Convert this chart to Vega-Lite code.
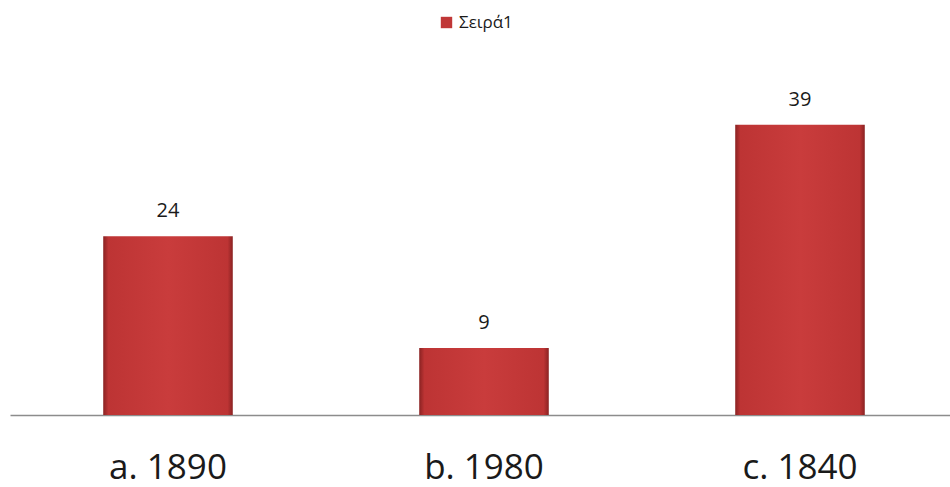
{
  "$schema": "https://vega.github.io/schema/vega-lite/v6.json",
  "autosize": "none",
  "width": 948,
  "height": 335,
  "padding": {"left": 10, "top": 80, "right": 0, "bottom": 72},
  "background": "white",
  "config": {"view": {"stroke": null}, "font": "Open Sans"},
  "data": {"values": [
    {"category": "a. 1890", "value": 24, "series": "Σειρά1"},
    {"category": "b. 1980", "value": 9, "series": "Σειρά1"},
    {"category": "c. 1840", "value": 39, "series": "Σειρά1"}
  ]},
  "encoding": {
    "x": {"field": "category", "type": "nominal", "sort": null,
      "scale": {"paddingInner": 0.59, "paddingOuter": 0.295},
      "axis": {"title": null, "ticks": false, "labelAngle": 0, "labelFontSize": 35, "labelColor": "#1a1a1a",
        "labelFont": "Open Sans", "labelBaseline": "alphabetic", "labelPadding": 63,
        "domainColor": "#8c8c8c", "domainWidth": 1.5}},
    "y": {"field": "value", "type": "quantitative", "scale": {"domain": [0, 45], "nice": false},
      "axis": null}
  },
  "layer": [
    {
      "mark": {"type": "bar", "opacity": 0},
      "encoding": {
        "fill": {"field": "series", "type": "nominal",
          "scale": {"range": ["#c03737"]},
          "legend": {"title": null, "orient": "none", "direction": "horizontal", "legendX": 428, "legendY": -66,
            "symbolType": "square", "symbolSize": 130, "symbolStrokeWidth": 0, "symbolOpacity": 1,
            "labelFontSize": 17, "labelColor": "#1a1a1a", "labelFont": "Open Sans", "labelOffset": 4}}
      }
    },
    {
      "mark": {"type": "bar",
        "fill": {"gradient": "linear", "x1": 0, "x2": 1, "y1": 0, "y2": 0,
          "stops": [
            {"offset": 0, "color": "#8a2222"},
            {"offset": 0.04, "color": "#bd3434"},
            {"offset": 0.5, "color": "#c93c3c"},
            {"offset": 0.96, "color": "#bd3434"},
            {"offset": 1, "color": "#8a2222"}
          ]}}
    },
    {
      "mark": {"type": "text", "baseline": "alphabetic", "dy": -19, "fontSize": 20, "color": "#1a1a1a", "font": "Open Sans"},
      "encoding": {"text": {"field": "value", "type": "quantitative"}}
    }
  ]
}
